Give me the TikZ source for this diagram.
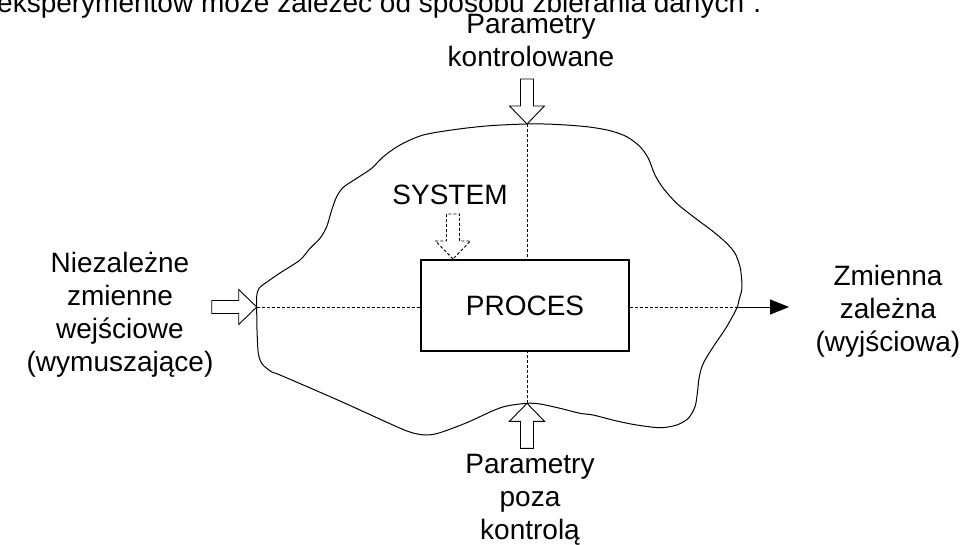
\documentclass[tikz,border=0pt]{standalone}
\usepackage{fontspec}
\setmainfont{Liberation Sans}
\usetikzlibrary{arrows.meta}
\begin{document}
\begin{tikzpicture}[x=1pt,y=-1pt,
  lbl/.style={font=\fontsize{28}{33}\selectfont, align=center, inner sep=0pt},
  blob/.style={line width=1pt, line join=round},
  guide/.style={line width=0.9pt, dash pattern=on 3pt off 2pt},
  boxstyle/.style={draw, line width=1.2pt, minimum width=208pt, minimum height=91pt,
    inner sep=0pt, font=\fontsize{28}{33}\selectfont},
  blockarrow/.pic={
    \draw[line width=0.9pt, fill=white, line join=miter]
      (0,0) -- (-17.5,-18) -- (-6.5,-18) -- (-6.5,-45) -- (6.5,-45)
      -- (6.5,-18) -- (17.5,-18) -- cycle;
  }]
  % page frame
  \useasboundingbox (0,0) rectangle (960,545);
  \clip (0,0) rectangle (960,545);
  \fill[white] (0,0) rectangle (960,545);

  % running text from the page above
  \node[lbl, anchor=base west] (runtext) at (-3,13)
    {eksperymentów może zależeć od sposobu zbierania danych”.};

  % system boundary
  \draw[blob] plot[smooth cycle, tension=0.5] coordinates {
    (526.7,124) (553.3,124.3) (586.7,126.7) (610,130.7) (626.7,136.7)
    (640,146.7) (648.3,158.3) (655,175) (663.3,188.3) (676.7,203.3)
    (693.3,216.7) (713.3,231.7) (726.7,243.3) (735,253.3) (740,266.7)
    (741.7,280) (741.7,290) (739,300) (736.7,308.3) (726.7,326.7)
    (713.3,346.7) (703.3,363.3) (699.3,376.7) (697.3,393.3) (695,406.7)
    (688.3,418.3) (676.7,425) (660,427.7) (636.7,425) (616.7,421)
    (593,415) (580,413.3) (560,408.3) (540,404) (526.7,403.3)
    (506.7,406) (493,410.7) (466.7,422.7) (440,432.7) (426.7,435)
    (413,433) (396.7,426.7) (340,401) (280,375) (273,372.7)
    (266.7,368.3) (261.7,363.3) (258.3,353.3) (257,330) (256.7,307)
    (256.8,295) (258.5,289.5) (262,285.5) (280,273) (300,260)
    (310,248.3) (320,238.3) (326.7,226.7) (331.7,210) (336.7,196.7)
    (343.3,187.3) (356.7,178.3) (371.7,168.3) (383.3,156.7) (400,145)
    (423.3,135) (456.7,129.3) (490,125.7)};

  % contact points on the boundary
  \coordinate (ctop) at (527,124);
  \coordinate (cbot) at (527,403.3);
  \coordinate (cleft) at (256.7,307);
  \coordinate (cright) at (737,307);
  \coordinate (outtip) at (789,307);

  % the process
  \node[boxstyle] (proc) at (525,305.5) {PROCES};

  % internal guide lines
  \draw[guide] (ctop) -- (ctop |- proc.north);
  \draw[guide] (cbot) -- (cbot |- proc.south);
  \draw[guide] (cleft) -- (cleft -| proc.west);
  \draw[guide] (proc.east |- cright) -- (cright);
  \draw[line width=1pt, -{Triangle[length=19pt,width=15pt]}] (cright) -- (outtip);

  % inputs
  \pic at (ctop) {blockarrow};
  \pic[rotate=180] at (cbot) {blockarrow};
  \pic[rotate=90] at (cleft) {blockarrow};
  \pic[dash pattern=on 3pt off 2pt] at (453,259) {blockarrow};

  % labels (base = baseline of the last line)
  \node[lbl, anchor=base] (ctrl) at (531,67) {Parametry\\kontrolowane};
  \node[lbl, anchor=base] (sys) at (450,205) {SYSTEM};
  \node[lbl, anchor=base] (indep) at (120,371) {Niezależne\\zmienne\\wejściowe\\(wymuszające)};
  \node[lbl, anchor=base] (dep) at (888,351) {Zmienna\\zależna\\(wyjściowa)};
  \node[lbl, anchor=base] (unctrl) at (530,539) {Parametry\\poza\\kontrolą};
\end{tikzpicture}
\end{document}
